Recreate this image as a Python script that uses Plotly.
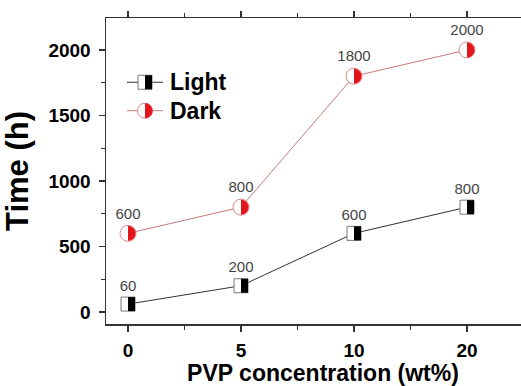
import numpy as np
import plotly.graph_objects as go

categories = ["0", "5", "10", "20"]
light = [60, 200, 600, 800]
dark = [600, 800, 1800, 2000]

xi = list(range(len(categories)))
FONT = "Liberation Sans, Arial, sans-serif"
RED = "#e3151c"

fig = go.Figure()
fig.add_trace(go.Scatter(
    x=xi, y=light, mode="lines+markers+text", text=[str(v) for v in light],
    textposition="top center", textfont=dict(family=FONT, size=15, color="#444"),
    line=dict(color="#333333", width=1),
    marker=dict(symbol="square", size=14, color="white", line=dict(color="#777", width=1)),
    showlegend=False, cliponaxis=False))
fig.add_trace(go.Scatter(
    x=xi, y=dark, mode="lines+markers+text", text=[str(v) for v in dark],
    textposition="top center", textfont=dict(family=FONT, size=15, color="#444"),
    line=dict(color="#c87a7a", width=1),
    marker=dict(symbol="circle", size=16, color="white", line=dict(color="#e08a8a", width=1)),
    showlegend=False, cliponaxis=False))

# half-circle geometry (pixels)
t = np.linspace(-np.pi / 2, np.pi / 2, 25)
r = 7.5
half_circle = "M " + " L ".join(f"{r*np.cos(a):.2f},{r*np.sin(a):.2f}" for a in t) + " Z"

shapes = []
for x, v in zip(xi, light):
    shapes.append(dict(type="rect", xref="x", yref="y", xsizemode="pixel", ysizemode="pixel",
                       xanchor=x, yanchor=v, x0=0, x1=7, y0=-7, y1=7,
                       fillcolor="black", line=dict(width=0)))
for x, v in zip(xi, dark):
    shapes.append(dict(type="path", xref="x", yref="y", xsizemode="pixel", ysizemode="pixel",
                       xanchor=x, yanchor=v, path=half_circle,
                       fillcolor=RED, line=dict(width=0)))

# manual legend (positions in plot-area fraction)
W, L = 540, 106
leg_x = (145 - L) / (W - L)
leg = [("Light", 0.79, "sq"), ("Dark", 0.697, "ci")]
annotations = []
for name, ly, kind in leg:
    col = "#333333" if kind == "sq" else "#c87a7a"
    shapes.append(dict(type="line", xref="paper", yref="paper", xsizemode="pixel", ysizemode="pixel",
                       xanchor=leg_x, yanchor=ly, x0=-18, x1=18, y0=0, y1=0,
                       line=dict(color=col, width=1)))
    if kind == "sq":
        shapes.append(dict(type="rect", xref="paper", yref="paper", xsizemode="pixel", ysizemode="pixel",
                           xanchor=leg_x, yanchor=ly, x0=-7, x1=7, y0=-7, y1=7,
                           fillcolor="white", line=dict(color="#777", width=1)))
        shapes.append(dict(type="rect", xref="paper", yref="paper", xsizemode="pixel", ysizemode="pixel",
                           xanchor=leg_x, yanchor=ly, x0=0, x1=7, y0=-7, y1=7,
                           fillcolor="black", line=dict(width=0)))
    else:
        shapes.append(dict(type="circle", xref="paper", yref="paper", xsizemode="pixel", ysizemode="pixel",
                           xanchor=leg_x, yanchor=ly, x0=-7.5, x1=7.5, y0=-7.5, y1=7.5,
                           fillcolor="white", line=dict(color="#e08a8a", width=1)))
        shapes.append(dict(type="path", xref="paper", yref="paper", xsizemode="pixel", ysizemode="pixel",
                           xanchor=leg_x, yanchor=ly, path=half_circle,
                           fillcolor=RED, line=dict(width=0)))
    annotations.append(dict(x=leg_x, y=ly, xref="paper", yref="paper", text=f"<b>{name}</b>",
                            showarrow=False, xanchor="left", yanchor="middle", xshift=23,
                            font=dict(family=FONT, size=23, color="black")))

fig.update_layout(
    width=W, height=386,
    margin=dict(l=L, r=0, t=18, b=62, autoexpand=False),
    plot_bgcolor="white", paper_bgcolor="white",
    hovermode=False,
    shapes=shapes, annotations=annotations,
    xaxis=dict(range=[-0.195, 3.646], tickmode="array", tickvals=xi, ticktext=categories,
               automargin=False,
               showgrid=False, zeroline=False, showline=True, linecolor="#333", linewidth=1.5,
               mirror="ticks", ticks="outside", ticklen=6, tickcolor="#333", tickwidth=1.5,
               minor=dict(dtick=0.5, tick0=0.5, ticks="outside", ticklen=4, tickcolor="#333",
                          tickwidth=1, showgrid=False),
               tickfont=dict(family=FONT, size=19, color="black", weight="bold"), ticklabelstandoff=3,
               title=dict(text="<b>PVP concentration (wt%)</b>", standoff=8,
                          font=dict(family=FONT, size=23, color="black"))),
    yaxis=dict(range=[-92, 2244], tickvals=[0, 500, 1000, 1500, 2000],
               automargin=False, mirror=False,
               showgrid=False, zeroline=False, showline=True, linecolor="#333", linewidth=1.5,
               ticks="outside", ticklen=6, tickcolor="#333", tickwidth=1.5,
               minor=dict(dtick=250, tick0=0, ticks="outside", ticklen=4, tickcolor="#333",
                          tickwidth=1, showgrid=False),
               tickfont=dict(family=FONT, size=19, color="black", weight="bold"), ticklabelstandoff=4,
               tickformat="d",
               title=dict(text="<b>Time (h)</b>", standoff=10,
                          font=dict(family=FONT, size=31, color="black"))),
)

fig.write_html("out.html", config={"displayModeBar": False, "staticPlot": True},
               post_script="document.body.style.margin='0';document.body.style.overflow='hidden';")
